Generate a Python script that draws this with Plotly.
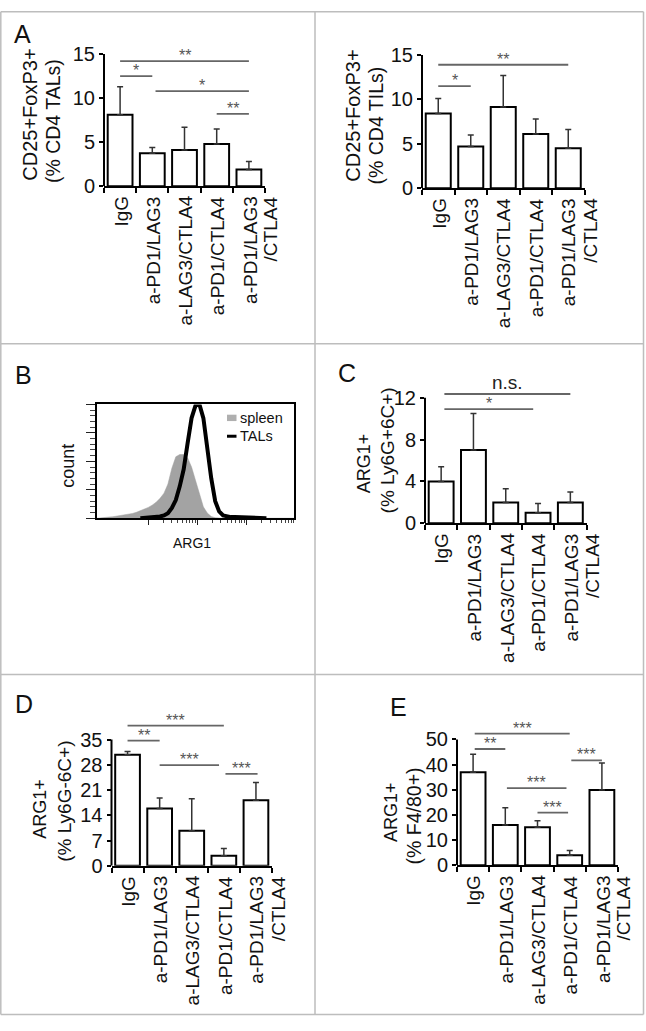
import math
import plotly.graph_objects as go

W, H = 646, 1031
FONT = "Liberation Sans, Arial, sans-serif"

groups = ["IgG", "a-PD1/LAG3", "a-LAG3/CTLA4", "a-PD1/CTLA4", "a-PD1/LAG3<br>/CTLA4"]

# A (left): CD25+FoxP3+ (% CD4 TALs)
tal_treg = [8.1, 3.75, 4.1, 4.8, 1.9]
tal_treg_err = [3.2, 0.65, 2.6, 1.7, 0.9]
tal_ticks = [0, 5, 10, 15]
tal_sig_from = [0, 0, 1.1, 3]
tal_sig_to = [4, 1, 4, 4]
tal_sig_y = [14.2, 12.5, 10.8, 8.2]
tal_sig_txt = ["**", "*", "*", "**"]

# A (right): CD25+FoxP3+ (% CD4 TILs)
til_treg = [8.4, 4.7, 9.15, 6.1, 4.5]
til_treg_err = [1.7, 1.3, 3.55, 1.7, 2.1]
til_ticks = [0, 5, 10, 15]
til_sig_from = [0, 0]
til_sig_to = [4, 1]
til_sig_y = [13.9, 11.5]
til_sig_txt = ["**", "*"]

# C: ARG1+ (% Ly6G+6C+)
gran_arg1 = [4.0, 7.0, 2.0, 1.0, 2.0]
gran_arg1_err = [1.4, 3.5, 1.3, 0.9, 1.0]
gran_ticks = [0, 4, 8, 12]
gran_sig_from = [0.1, 0.1]
gran_sig_to = [4, 2.85]
gran_sig_y = [12.35, 10.9]
gran_sig_txt = ["n.s.", "*"]

# D: ARG1+ (% Ly6G-6C+)
mono_arg1 = [30.8, 15.9, 9.7, 2.8, 18.2]
mono_arg1_err = [0.9, 2.9, 8.9, 2.0, 4.9]
mono_ticks = [0, 7, 14, 21, 28, 35]
mono_sig_from = [0, 0, 1, 3.05]
mono_sig_to = [3, 1, 2.85, 4.05]
mono_sig_y = [38.9, 34.7, 27.9, 25.5]
mono_sig_txt = ["***", "**", "***", "***"]

# E: ARG1+ (% F4/80+)
mac_arg1 = [37.0, 16.0, 15.1, 4.0, 29.9]
mac_arg1_err = [7.1, 6.9, 2.6, 1.9, 10.7]
mac_ticks = [0, 10, 20, 30, 40, 50]
mac_sig_from = [0.05, 0.05, 3.05, 1.05, 2.0]
mac_sig_to = [3, 1, 4, 2.9, 2.95]
mac_sig_y = [52.3, 46.2, 41.7, 30.7, 20.9]
mac_sig_txt = ["***", "**", "***", "***", "***"]

# B: ARG1 histogram (count as % of axis height)
arg1_bins = list(range(0, 102, 2))
spleen_counts = [0, 0.5, 0.8, 1, 1.3, 1.8, 2.2, 2.8, 3.3, 4.2, 5.2, 6.5, 8, 9.5, 11.5, 14,
                 17.5, 22, 30, 44, 54, 56, 56, 53, 45, 33, 20, 10, 4.5, 1.5, 0.5] + [0] * 20
tal_bins = list(range(22, 88, 2))
tal_counts = [0, 0.3, 0.5, 0.8, 1, 1.5, 2.5, 4.5, 9, 16, 28, 43, 66, 88, 99, 100, 88, 60,
              35, 15, 6, 2.5, 1.5, 1, 1, 0.8, 0.6, 0.5, 0.5, 0.3, 0.2, 0, 0]
arg1_decades = [26, 51, 76]


def xd(px):
    return px / W


def yd(py):
    return 1 - py / H


# axis number, data, pixel box of the plot area
bar_panels = [
    dict(n=1, mean=tal_treg, err=tal_treg_err, ticks=tal_ticks,
         sig=(tal_sig_from, tal_sig_to, tal_sig_y, tal_sig_txt),
         x0=104, x1=265, base=179, ppu=9.0, ymax=15),
    dict(n=2, mean=til_treg, err=til_treg_err, ticks=til_ticks,
         sig=(til_sig_from, til_sig_to, til_sig_y, til_sig_txt),
         x0=422, x1=584.5, base=181, ppu=9.07, ymax=15),
    dict(n=4, mean=gran_arg1, err=gran_arg1_err, ticks=gran_ticks,
         sig=(gran_sig_from, gran_sig_to, gran_sig_y, gran_sig_txt),
         x0=425, x1=586.5, base=523.5, ppu=10.7, ymax=12.6),
    dict(n=5, mean=mono_arg1, err=mono_arg1_err, ticks=mono_ticks,
         sig=(mono_sig_from, mono_sig_to, mono_sig_y, mono_sig_txt),
         x0=111.5, x1=272, base=873.5, ppu=3.686, ymax=39.5),
    dict(n=6, mean=mac_arg1, err=mac_arg1_err, ticks=mac_ticks,
         sig=(mac_sig_from, mac_sig_to, mac_sig_y, mac_sig_txt),
         x0=457, x1=618, base=873, ppu=2.574, ymax=53),
]

fig = go.Figure()
layout = {}
shapes = []
annotations = []

for p in bar_panels:
    n = p["n"]
    xr = "x" if n == 1 else f"x{n}"
    yr = "y" if n == 1 else f"y{n}"
    xk = "xaxis" if n == 1 else f"xaxis{n}"
    yk = "yaxis" if n == 1 else f"yaxis{n}"

    fig.add_trace(go.Bar(
        x=groups, y=p["mean"], xaxis=xr, yaxis=yr, width=0.77, showlegend=False,
        marker=dict(color="white", line=dict(color="black", width=2)),
        error_y=dict(type="data", symmetric=False, array=p["err"],
                     arrayminus=[0] * len(p["err"]), color="#333", thickness=1.5, width=3),
    ))

    layout[xk] = dict(
        domain=[xd(p["x0"]), xd(p["x1"])], anchor=yr, type="category", range=[-0.5, 4.5],
        showline=True, linecolor="black", linewidth=2, ticks="outside", tickson="boundaries",
        ticklen=5, tickwidth=1.5, tickcolor="black", showticklabels=False,
        showgrid=False, zeroline=False,
    )
    top_px = p["base"] - p["ymax"] * p["ppu"]
    layout[yk] = dict(
        domain=[yd(p["base"]), yd(top_px)], anchor=xr, range=[0, p["ymax"]],
        showline=False, ticks="outside", ticklen=4, tickwidth=1.5, tickcolor="black",
        tickvals=p["ticks"], tickfont=dict(size=20, color="#111"),
        showgrid=False, zeroline=False,
    )
    # y spine only up to the top tick
    shapes.append(dict(type="line", xref=f"{xr} domain", yref=yr, x0=0, x1=0,
                       y0=0, y1=max(p["ticks"]), line=dict(color="black", width=2)))

    # rotated group labels, end aligned under the axis; wrapped line sits to the right
    for i, g in enumerate(groups):
        for j, part in enumerate(g.split("<br>")):
            annotations.append(dict(xref=xr, yref="paper", x=i, y=yd(p["base"] + 8),
                                    xshift=1 + 21 * j, text=part, showarrow=False,
                                    textangle=-90, xanchor="center", yanchor="top",
                                    font=dict(size=19, color="#111")))

    for s, e, y, t in zip(*p["sig"]):
        star = "*" in t
        shapes.append(dict(type="line", xref=xr, yref=yr, x0=s, x1=e, y0=y, y1=y,
                           line=dict(color="#666", width=1.8)))
        annotations.append(dict(xref=xr, yref=yr, x=(s + e) / 2, y=y, text=t,
                                showarrow=False, yanchor="bottom",
                                yshift=-5 if star else -1,
                                font=dict(size=16 if star else 19,
                                          color="#555" if star else "#222")))

# panel B histogram
fig.add_trace(go.Scatter(
    x=arg1_bins, y=spleen_counts, xaxis="x3", yaxis="y3", mode="lines",
    fill="tozeroy", fillcolor="rgb(163,163,163)", line=dict(color="rgb(163,163,163)", width=0.5),
    showlegend=False,
))
fig.add_trace(go.Scatter(
    x=tal_bins, y=tal_counts, xaxis="x3", yaxis="y3", mode="lines",
    line=dict(color="black", width=4), showlegend=False,
))
minor_x = [d + 25 * math.log10(k) for d in arg1_decades + [101] for k in range(2, 10)]
minor_x = [v for v in minor_x if v < 100]
layout["xaxis3"] = dict(
    domain=[xd(97), xd(294)], anchor="y3", range=[0, 100], showline=True, mirror=True,
    linecolor="black", linewidth=2, ticks="outside", tickvals=arg1_decades, ticklen=5,
    tickwidth=1.2, tickcolor="#222", showticklabels=False, showgrid=False, zeroline=False,
    minor=dict(tickvals=minor_x, ticks="outside", ticklen=3, tickwidth=1, tickcolor="#444"),
)
layout["yaxis3"] = dict(
    domain=[yd(518.3), yd(402)], anchor="x3", range=[0, 100], showline=True, mirror=True,
    linecolor="black", linewidth=2, ticks="outside", tickvals=[0, 25, 50, 75, 100], ticklen=9,
    tickwidth=1.2, tickcolor="#222", showticklabels=False, showgrid=False, zeroline=False,
    minor=dict(dtick=5, ticks="outside", ticklen=5, tickwidth=1, tickcolor="#444"),
)

# legend of B
shapes.append(dict(type="rect", xref="paper", yref="paper", x0=xd(227), x1=xd(236.5),
                   y0=yd(419), y1=yd(412.5), fillcolor="rgb(175,175,175)", line_width=0))
shapes.append(dict(type="line", xref="paper", yref="paper", x0=xd(227), x1=xd(236.5),
                   y0=yd(434.5), y1=yd(434.5), line=dict(color="black", width=3)))


def txt(text, x, y, size, angle=0, anchor="center", color="#111"):
    annotations.append(dict(xref="paper", yref="paper", x=xd(x), y=yd(y), text=text,
                            showarrow=False, textangle=angle, xanchor=anchor,
                            yanchor="middle", font=dict(size=size, color=color)))


txt("spleen", 238, 415.5, 14.5, anchor="left")
txt("TALs", 238, 434, 14.5, anchor="left")
txt("count", 67.7, 465, 18, angle=-90)
txt("ARG1", 191.7, 543.3, 14)

# y axis titles, one annotation per line
txt("CD25+FoxP3+", 30, 106, 20, angle=-90)
txt("(% CD4 TALs)", 52.5, 113, 19.5, angle=-90)
txt("CD25+FoxP3+", 353, 107, 20, angle=-90)
txt("(% CD4 TILs)", 376, 117, 19.5, angle=-90)
txt("ARG1+", 363.5, 461.7, 18, angle=-90)
txt("(% Ly6G+6C+)", 387, 449, 19, angle=-90)
txt("ARG1+", 40.5, 815.7, 18, angle=-90)
txt("(% Ly6G-6C+)", 64.5, 807.5, 19, angle=-90)
txt("ARG1+", 390.5, 819, 18, angle=-90)
txt("(% F4/80+)", 414, 823, 19.5, angle=-90)

# panel letters
for letter, lx, ly in [("A", 22.5, 23.5), ("B", 23.5, 371.5), ("C", 347, 370),
                       ("D", 24, 708.5), ("E", 398, 711.5)]:
    txt(letter, lx, ly, 25)

# panel frame lines
grid = dict(color="#bdbdbd", width=1.5)
for x in [0.8, 315, 643.5]:
    shapes.append(dict(type="line", xref="paper", yref="paper", x0=xd(x), x1=xd(x),
                       y0=yd(0.8), y1=yd(1025.5), line=grid))
for y in [0.8, 340, 678, 1025.5]:
    shapes.append(dict(type="line", xref="paper", yref="paper", x0=xd(0.8), x1=xd(643.5),
                       y0=yd(y), y1=yd(y), line=grid))

fig.update_layout(
    width=W, height=H, margin=dict(l=0, r=0, t=0, b=0),
    paper_bgcolor="white", plot_bgcolor="white",
    font=dict(family=FONT, color="#111"),
    shapes=shapes, annotations=annotations, **layout,
)

fig.write_html("out.html", config={"displayModeBar": False},
               post_script="document.body.style.margin='0';"
                           "document.body.style.overflow='hidden';")
